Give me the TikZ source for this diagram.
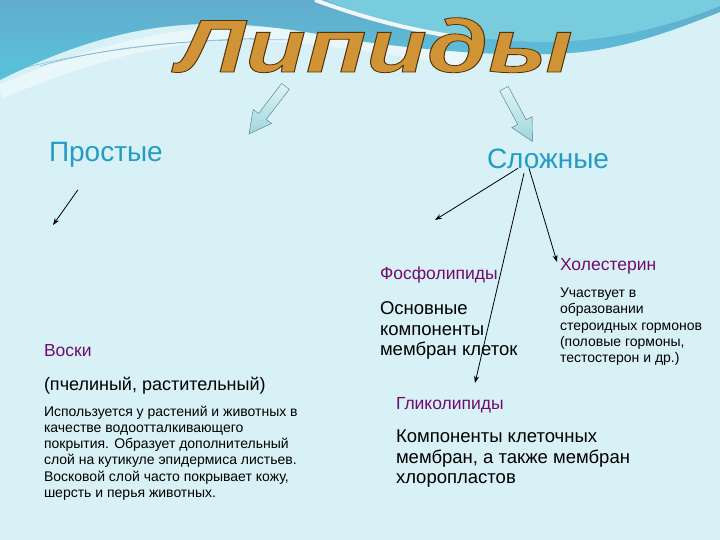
\documentclass[tikz,border=0pt]{standalone}
\usepackage{fontspec}
\setmainfont{Liberation Sans}
\usetikzlibrary{shapes.arrows, arrows.meta, positioning, calc}
\definecolor{bgpale}{RGB}{216,241,246}
\definecolor{waveblue}{RGB}{98,172,205}
\definecolor{waveturq}{RGB}{88,196,220}
\definecolor{wavecyan}{RGB}{120,204,222}
\definecolor{wavelight}{RGB}{234,247,250}
\definecolor{titlegold}{RGB}{208,148,54}
\definecolor{headteal}{RGB}{36,156,196}
\definecolor{subpurple}{RGB}{112,12,112}
\definecolor{arrowlight}{RGB}{222,244,246}
\definecolor{arrowdark}{RGB}{158,214,220}
\definecolor{arrowline}{RGB}{80,118,132}
\newcommand{\goldoutline}[1]{\special{pdf:code 2 Tr 0.8 w 0.32 0.20 0.04 RG}#1\special{pdf:code 0 Tr}}

\begin{document}
\begin{tikzpicture}[
        x=1pt, y=-1pt,
        every node/.style={inner sep=0pt, outer sep=0pt},
        head/.style={text=headteal, font=\fontsize{28}{32}\selectfont, anchor=base west},
        sub/.style={text=subpurple, font=\fontsize{17.5}{20}\selectfont, anchor=base west},
        body/.style={align=left, anchor=north west, font=\fontsize{18.5}{20.5}\selectfont},
        small/.style={align=left, anchor=north west, font=\fontsize{14}{16.2}\selectfont},
        blockarrow/.style={single arrow, draw=arrowline, top color=arrowlight, bottom color=arrowdark, inner sep=4.5pt, minimum height=60pt, minimum width=23pt, single arrow head extend=6.5pt, single arrow tip angle=55},
        link/.style={-{Stealth[length=7pt, width=5pt]}, line width=0.8pt}
    ]
        % background and wave
        \useasboundingbox (0,0) rectangle (720,540);
        \clip (0,0) rectangle (720,540);
        \fill[bgpale] (0,0) rectangle (720,540);
        \draw[wavelight, line width=14pt] (0,92) .. controls (70,62) and (150,36) .. (230,34) .. controls (320,33) and (400,50) .. (470,60);
        \shade[top color=waveblue, bottom color=waveturq] (0,0) -- (720,0) -- (720,12) .. controls (670,32) and (620,50) .. (570,53) .. controls (510,57) and (450,52) .. (380,44) .. controls (320,36) and (280,24) .. (210,24) .. controls (130,24) and (60,50) .. (0,80) -- cycle;
        \fill[wavecyan] (325,0) .. controls (390,26) and (460,40) .. (540,42) .. controls (620,42) and (680,22) .. (720,6) -- (720,0) -- cycle;
        \draw[white, line width=4pt, opacity=0.9] (315,0) .. controls (370,20) and (420,33) .. (480,40);
        \draw[waveblue, line width=0.6pt, opacity=0.7] (0,74) .. controls (80,52) and (170,40) .. (270,38);
        \draw[waveblue, line width=0.6pt, opacity=0.7] (40,66) .. controls (110,46) and (190,38) .. (300,40);

        \node[font=\fontsize{75}{80}\selectfont\bfseries\itshape, text=titlegold, anchor=base] (title) at (375,72) {\scalebox{1.32}[1]{\goldoutline{Липиды}}};

        \node[blockarrow, rotate=232.5] (arrowL) at (270,106.5) {};
        \node[blockarrow, rotate=298.3] (arrowR) at (516,111) {};

        \node[head] (prostye) at (49,162) {Простые};
        \node[head] (slozhnye) at (487,169) {Сложные};

        \node[sub] (voski) at (44,356) {Воски};
        \node[anchor=base west, font=\fontsize{18}{20}\selectfont] (pchel) at (44,390) {(пчелиный, растительный)};
        \node[small] (voskitext) at (44,406) {Используется у растений и животных в\\качестве водоотталкивающего\\покрытия. Образует дополнительный\\слой на кутикуле эпидермиса листьев.\\Восковой слой часто покрывает кожу,\\шерсть и перья животных.};

        \node[sub] (fosfo) at (380,279) {Фосфолипиды};
        \node[body] (fosfotext) at (380,302) {Основные\\компоненты\\мембран клеток};

        \node[sub] (holest) at (560,270) {Холестерин};
        \node[small] (holesttext) at (560,288) {Участвует в\\образовании\\стероидных гормонов\\(половые гормоны,\\тестостерон и др.)};

        \node[sub] (gliko) at (396,409) {Гликолипиды};
        \node[body] (glikotext) at (396,430) {Компоненты клеточных\\мембран, а также мембран\\хлоропластов};

        \coordinate (prostyeEnd) at (53,225);
        \coordinate (fosfoEnd) at (435,220);
        \coordinate (glikoEnd) at (475,383);
        \coordinate (holestEnd) at (557,262);

        \draw[link] ([shift={(-28,22)}]prostye.south) -- (prostyeEnd);
        \draw[link] ([shift={(-30,-1)}]slozhnye.south) -- (fosfoEnd);
        \draw[link] ([shift={(-24,4)}]slozhnye.south) -- (glikoEnd);
        \draw[link] ([shift={(-19,-1)}]slozhnye.south) -- (holestEnd);
    \end{tikzpicture}
\end{document}
